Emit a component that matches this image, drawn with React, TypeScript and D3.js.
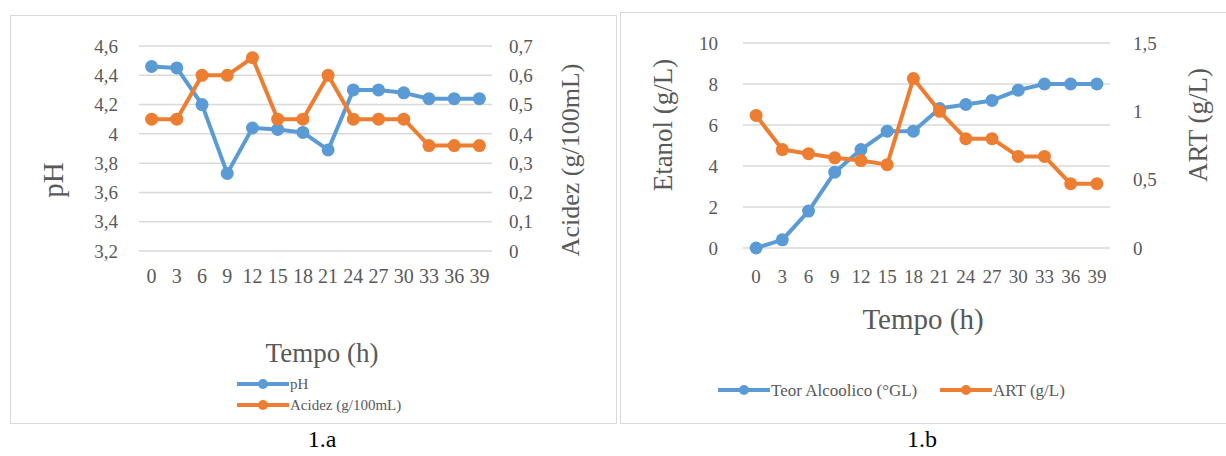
import * as d3 from 'd3';

const TEMPO = ['0', '3', '6', '9', '12', '15', '18', '21', '24', '27', '30', '33', '36', '39'];
const PH = [4.46, 4.45, 4.2, 3.73, 4.04, 4.03, 4.01, 3.89, 4.3, 4.3, 4.28, 4.24, 4.24, 4.24];
const ACIDEZ = [0.45, 0.45, 0.6, 0.6, 0.66, 0.45, 0.45, 0.6, 0.45, 0.45, 0.45, 0.36, 0.36, 0.36];
const PH_TICKS = [3.2, 3.4, 3.6, 3.8, 4, 4.2, 4.4, 4.6];
const ACIDEZ_TICKS = [0, 0.1, 0.2, 0.3, 0.4, 0.5, 0.6, 0.7];

const TEOR = [0, 0.4, 1.8, 3.7, 4.8, 5.7, 5.7, 6.8, 7.0, 7.2, 7.7, 8.0, 8.0, 8.0];
const ART = [0.97, 0.72, 0.69, 0.66, 0.64, 0.61, 1.24, 1.0, 0.8, 0.8, 0.67, 0.67, 0.47, 0.47];
const ETANOL_TICKS = [0, 2, 4, 6, 8, 10];
const ART_TICKS = [0, 0.5, 1, 1.5];

const BLUE = '#5b9bd5';
const ORANGE = '#ed7d31';
const GRID = '#d9d9d9';
const TXT = '#595959';
const FONT = "'Liberation Serif', 'Times New Roman', serif";

const fmt = (v: number) => String(v).replace('.', ',');

// plain text helper so every label gets the serif face
function T({ children, ...rest }: any) {
  return (
    <text style={{ fontFamily: FONT }} fill={TXT} dy="0.35em" {...rest}>{children}</text>
  );
}

function Series({ values, x, y, color }: any) {
  const cx = (i: number) => x(TEMPO[i])! + x.bandwidth() / 2;
  const line = d3.line<number>().x((_, i) => cx(i)).y((d) => y(d));
  return (
    <g>
      <path d={line(values) || ''} fill="none" stroke={color} strokeWidth={4} strokeLinejoin="round" />
      {values.map((v: number, i: number) => (
        <circle key={i} cx={cx(i)} cy={y(v)} r={6.5} fill={color} />
      ))}
    </g>
  );
}

function LegendMark({ x, y, color }: any) {
  return (
    <g>
      <line x1={x} x2={x + 52} y1={y} y2={y} stroke={color} strokeWidth={4} />
      <circle cx={x + 26} cy={y} r={5} fill={color} />
    </g>
  );
}

function ChartA() {
  const x = d3.scaleBand<string>().domain(TEMPO).range([139, 492]);
  const yL = d3.scaleLinear().domain([3.2, 4.6]).range([251, 46]);
  const yR = d3.scaleLinear().domain([0, 0.7]).range([251, 46]);
  return (
    <g>
      <rect x={10.5} y={15.5} width={606} height={408} fill="#fff" stroke="#d9d9d9" />
      {PH_TICKS.map((t) => (
        <g key={t}>
          <line x1={139} x2={492} y1={yL(t)} y2={yL(t)} stroke={GRID} strokeWidth={1.5} />
          <T x={118} y={yL(t)} textAnchor="end" fontSize={19}>{fmt(t)}</T>
        </g>
      ))}
      {ACIDEZ_TICKS.map((t) => (
        <T key={t} x={509} y={yR(t)} textAnchor="start" fontSize={19}>{fmt(t)}</T>
      ))}
      {TEMPO.map((t) => (
        <T key={t} x={x(t)! + x.bandwidth() / 2} y={276} textAnchor="middle" fontSize={20}>{t}</T>
      ))}
      <Series values={PH} x={x} y={yL} color={BLUE} />
      <Series values={ACIDEZ} x={x} y={yR} color={ORANGE} />
      <T transform="translate(53,180) rotate(-90)" textAnchor="middle" fontSize={29}>pH</T>
      <T transform="translate(570,160) rotate(-90)" textAnchor="middle" fontSize={26}>Acidez (g/100mL)</T>
      <T x={322} y={353} textAnchor="middle" fontSize={27}>Tempo (h)</T>
      <LegendMark x={237} y={384} color={BLUE} />
      <T x={290} y={384} fontSize={15}>pH</T>
      <LegendMark x={237} y={405} color={ORANGE} />
      <T x={290} y={405} fontSize={15}>Acidez (g/100mL)</T>
      <T x={322} y={439} textAnchor="middle" fontSize={24} fill="#000">1.a</T>
    </g>
  );
}

function ChartB() {
  const x = d3.scaleBand<string>().domain(TEMPO).range([743, 1110]);
  const yL = d3.scaleLinear().domain([0, 10]).range([248, 43]);
  const yR = d3.scaleLinear().domain([0, 1.5]).range([248, 43]);
  return (
    <g>
      <rect x={620.5} y={12.5} width={610} height={411} fill="#fff" stroke="#d9d9d9" />
      {ETANOL_TICKS.map((t) => (
        <g key={t}>
          <line x1={743} x2={1110} y1={yL(t)} y2={yL(t)} stroke={GRID} strokeWidth={1.5} />
          <T x={718} y={yL(t)} textAnchor="end" fontSize={19}>{t}</T>
        </g>
      ))}
      {ART_TICKS.map((t) => (
        <T key={t} x={1133} y={yR(t)} textAnchor="start" fontSize={19}>{fmt(t)}</T>
      ))}
      {TEMPO.map((t) => (
        <T key={t} x={x(t)! + x.bandwidth() / 2} y={276} textAnchor="middle" fontSize={19}>{t}</T>
      ))}
      <Series values={TEOR} x={x} y={yL} color={BLUE} />
      <Series values={ART} x={x} y={yR} color={ORANGE} />
      <T transform="translate(663,125) rotate(-90)" textAnchor="middle" fontSize={27}>Etanol (g/L)</T>
      <T transform="translate(1198,125) rotate(-90)" textAnchor="middle" fontSize={27}>ART (g/L)</T>
      <T x={923} y={319} textAnchor="middle" fontSize={29}>Tempo (h)</T>
      <LegendMark x={718} y={390} color={BLUE} />
      <T x={771} y={390} fontSize={17}>Teor Alcoolico (°GL)</T>
      <LegendMark x={940} y={390} color={ORANGE} />
      <T x={993} y={390} fontSize={17}>ART (g/L)</T>
      <T x={922} y={439} textAnchor="middle" fontSize={24} fill="#000">1.b</T>
    </g>
  );
}

export default function App() {
  return (
    <svg width={1226} height={456} style={{ position: 'absolute', left: 0, top: 0 }}>
      <rect width={1226} height={456} fill="#fff" />
      <ChartA />
      <ChartB />
    </svg>
  );
}
